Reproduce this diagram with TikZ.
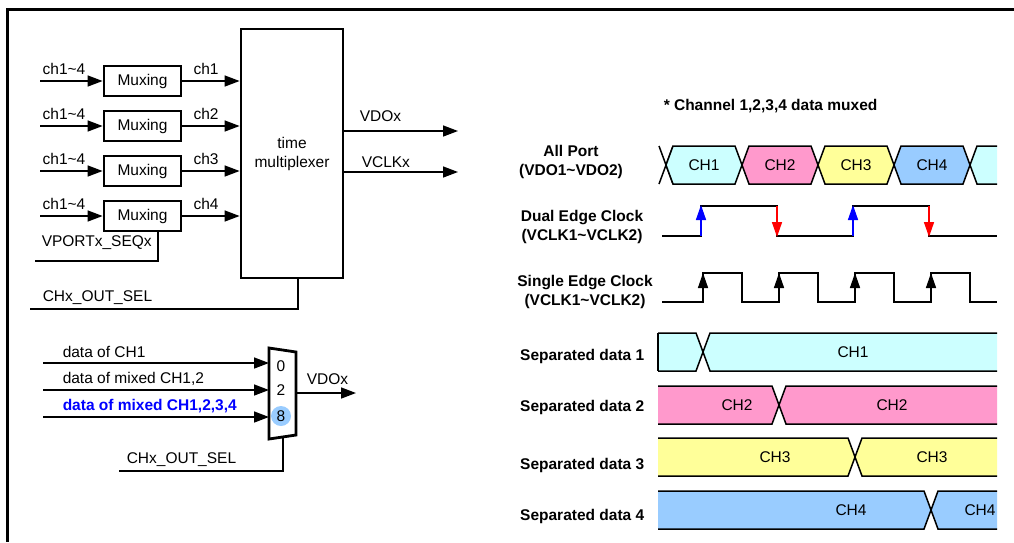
\documentclass[tikz,border=0pt]{standalone}
\usepackage{fontspec}
\setmainfont{Liberation Sans}
\usetikzlibrary{arrows.meta}

\definecolor{chone}{HTML}{CCFFFF}
\definecolor{chtwo}{HTML}{FF99CC}
\definecolor{chthree}{HTML}{FFFF99}
\definecolor{chfour}{HTML}{99CCFF}
\definecolor{selblue}{HTML}{0000FF}

\begin{document}
\begin{tikzpicture}[x=1pt,y=-1pt,
  font=\fontsize{15.5}{19}\selectfont,
  line width=1.5pt,
  >={Triangle[length=15pt,width=11pt]},
  muxbox/.style={draw,line width=2.8pt,minimum width=77pt,minimum height=30pt,inner sep=0pt},
  lbl/.style={inner sep=0pt},
  sig/.style={font=\fontsize{15.5}{19}\selectfont\bfseries,align=center,inner sep=0pt},
  clkarrow/.style={-{Triangle[length=15pt,width=10pt]}}]
  \useasboundingbox (0,0) rectangle (1014,542);
  \draw[line width=3pt] (1014,9) -- (7,9) -- (7,542);

  % muxing blocks and time multiplexer
  \node[draw,line width=2.8pt,minimum width=102pt,minimum height=249pt,align=center] (tmux) at (292,153.5) {time\\multiplexer};
  \foreach \i/\y in {1/81,2/126,3/171,4/216} {
    \node[muxbox] (mux\i) at (142.5,\y) {Muxing};
    \coordinate (in\i) at (40,\y);
    \draw[->] (in\i) -- (mux\i);
    \draw[->] (mux\i) -- (mux\i -| tmux.west);
    \node[lbl] (inlbl\i) at (64,\y-12) {ch1\textasciitilde 4};
    \node[lbl] (outlbl\i) at (206,\y-12) {ch\i};
  }
  \coordinate (seq) at (35,261);
  \draw ([xshift=15.5pt]mux4.south) |- (seq);
  \node[lbl,anchor=west] (seqlbl) at (41,243) {VPORTx\_SEQx};
  \coordinate (sel) at (30,309);
  \draw ([xshift=6pt]tmux.south) |- (sel);
  \node[lbl,anchor=west] (sellbl) at (42,298) {CHx\_OUT\_SEL};
  \coordinate (vdo) at (458,131);
  \coordinate (vclk) at (458,172);
  \draw[->] (tmux.east |- vdo) -- (vdo);
  \draw[->] (tmux.east |- vclk) -- (vclk);
  \node[lbl,anchor=west] (vdolbl) at (359,116) {VDOx};
  \node[lbl,anchor=west] (vclklbl) at (361,162) {VCLKx};

  % output select mux
  \coordinate (m1) at (269,348);
  \coordinate (m2) at (296,352);
  \coordinate (m3) at (296,435);
  \coordinate (m4) at (269,439);
  \draw[line width=2.8pt,line join=miter] (m1) -- (m2) -- (m3) -- (m4) -- cycle;
  \fill[chfour] (281,416) circle (10);
  \node[lbl] (sel0) at (281,366) {0};
  \node[lbl] (sel2) at (281,390) {2};
  \node[lbl] (sel8) at (281,416) {8};
  \foreach \j/\y in {a/363,b/390,c/417} {
    \coordinate (d\j) at (43,\y);
    \draw[->] (d\j) -- (d\j -| m1);
  }
  \node[lbl,anchor=west] (dalbl) at (62,352) {data of CH1};
  \node[lbl,anchor=west] (dblbl) at (62,379) {data of mixed CH1,2};
  \node[lbl,anchor=west,text=selblue,font=\fontsize{15.5}{19}\selectfont\bfseries] (dclbl) at (62,406) {data of mixed CH1,2,3,4};
  \coordinate (vdo2) at (356,393);
  \draw[->] (vdo2 -| m2) -- (vdo2);
  \node[lbl,anchor=west] (vdo2lbl) at (306,379) {VDOx};
  \coordinate (sel2end) at (119,471);
  \draw (283,437) |- (sel2end);
  \node[lbl,anchor=west] (sel2lbl) at (126,460) {CHx\_OUT\_SEL};

  % timing
  \node[sig,anchor=west] (title) at (663,106) {* Channel 1,2,3,4 data muxed};
  \node[sig] (allport) at (571,162) {All Port\\(VDO1\textasciitilde VDO2)};
  \node[sig] (dualclk) at (582,227) {Dual Edge Clock\\(VCLK1\textasciitilde VCLK2)};
  \node[sig] (singleclk) at (585,292) {Single Edge Clock\\(VCLK1\textasciitilde VCLK2)};

  \draw (659,146) -- (673,184) (659,184) -- (673,146);
  \foreach \c/\col [count=\i] in {666/chone,742/chtwo,818/chthree,894/chfour} {
    \filldraw[fill=\col] (\c,165) -- ++(7,-19) -- ++(62,0) -- ++(7,19) -- ++(-7,19) -- ++(-62,0) -- cycle;
    \node[lbl] (cell\i) at (\c+38,165) {CH\i};
  }
  \fill[chone] (970,165) -- (977,146) -- (997,146) -- (997,184) -- (977,184) -- cycle;
  \draw (997,146) -- (977,146) -- (970,165) -- (977,184) -- (997,184);

  \draw (662,236) -| (701,206) -| (777,236) -| (853,206) -| (929,236) -- (997,236);
  \foreach \x in {701,853}
    \draw[blue,clkarrow] (\x,236) -- (\x,205);
  \foreach \x in {777,929}
    \draw[red,clkarrow] (\x,206) -- (\x,237);

  \draw (662,302) -| (703,273) -| (742,302) -| (779,273) -| (818,302) -| (855,273) -| (894,302) -| (931,273) -| (970,302) -- (997,302);
  \foreach \x in {703,779,855,931}
    \draw[clkarrow] (\x,292) -- (\x,273);

  \foreach \x/\top/\col in {703/333/chone,779/386/chtwo,855/438/chthree,931/491/chfour} {
    \fill[\col] (658,\top) -- (\x-7,\top) -- (\x,\top+19) -- (\x-7,\top+38) -- (658,\top+38) -- cycle;
    \fill[\col] (\x,\top+19) -- (\x+7,\top) -- (997,\top) -- (997,\top+38) -- (\x+7,\top+38) -- cycle;
    \draw (658,\top) -- (\x-7,\top) -- (\x+7,\top+38) -- (997,\top+38);
    \draw (658,\top+38) -- (\x-7,\top+38) -- (\x+7,\top) -- (997,\top);
  }
  \draw (658,333) -- (658,371);
  \node[lbl] (s1b) at (853,352) {CH1};
  \node[lbl] (s2a) at (737,405) {CH2};
  \node[lbl] (s2b) at (892,405) {CH2};
  \node[lbl] (s3a) at (775,457) {CH3};
  \node[lbl] (s3b) at (932,457) {CH3};
  \node[lbl] (s4a) at (851,510) {CH4};
  \node[lbl] (s4b) at (980,510) {CH4};
  \node[sig,anchor=east] (sep1) at (645,356) {Separated data 1};
  \node[sig,anchor=east] (sep2) at (645,407) {Separated data 2};
  \node[sig,anchor=east] (sep3) at (645,465) {Separated data 3};
  \node[sig,anchor=east] (sep4) at (645,516) {Separated data 4};
\end{tikzpicture}
\end{document}
